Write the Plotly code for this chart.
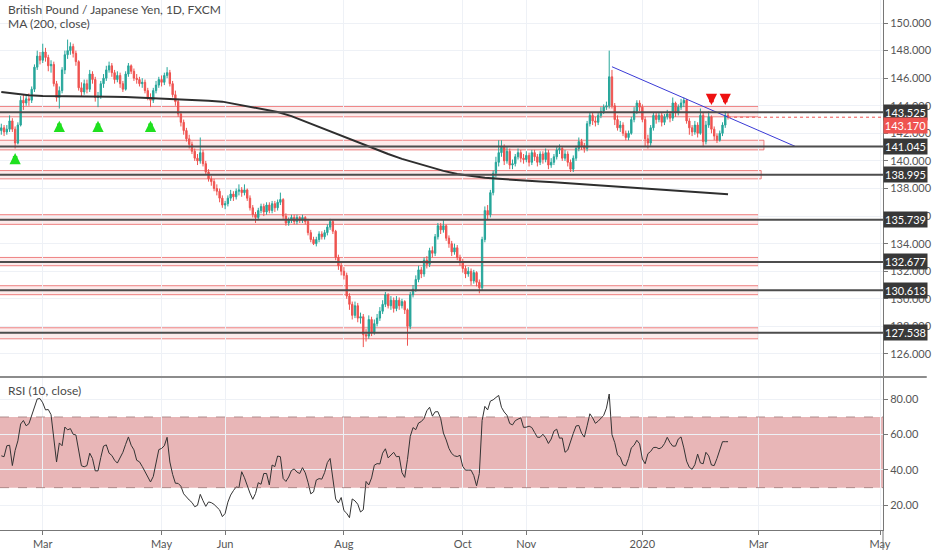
import pandas as pd
import plotly.graph_objects as go
from plotly.subplots import make_subplots

# %% data
# daily FXCM bars, weekends + Dec 25 / Jan 1 have no bar
bar_dates = pd.bdate_range("2019-02-08", "2020-02-14")
bar_dates = bar_dates[~bar_dates.isin(pd.to_datetime(["2019-12-25", "2020-01-01"]))]

opens = [142.2, 142.4, 142.1, 142.3, 142.9, 142.3,
         141.3, 142.6, 144.4, 144.2, 144.5, 144.4, 145.2, 146.8, 147.6, 147.3,
         147.9, 147.5, 146.9, 147.0, 145.6, 144.6, 145.1, 146.6, 147.7, 148.0,
         148.3, 147.8, 147.2, 145.3, 145.0, 145.6, 145.2, 146.3, 145.9, 144.6,
         144.7, 145.6, 146.0, 146.6, 146.9, 146.4, 145.9, 146.2, 145.6, 145.2,
         146.3, 146.9, 146.5, 146.0, 145.9, 145.6, 145.7, 145.1, 144.6, 144.4,
         145.1, 145.5, 145.9, 145.7, 146.2, 146.4, 145.6, 144.8, 144.3, 143.4,
         142.8, 142.2, 141.6, 141.2, 140.7, 140.2, 140.0, 140.6, 139.8, 139.2,
         138.7, 138.5, 138.0, 137.8, 137.3, 136.8, 136.9, 137.3, 137.6, 137.4,
         137.8, 137.9, 137.7, 137.9, 137.3, 136.6, 136.1, 135.9, 136.4, 136.7,
         136.3, 136.8, 136.4, 136.9, 136.6, 137.0, 137.2, 136.0, 135.5, 135.7,
         135.9, 135.6, 135.9, 135.7, 135.9, 135.6, 134.8, 134.3, 134.0, 134.3,
         134.7, 134.5, 134.8, 135.2, 135.6, 134.9, 133.0, 132.4, 132.0, 131.7,
         130.2, 129.6, 128.8, 129.5, 128.6, 128.7, 127.4, 127.3, 128.5, 127.6,
         128.2, 128.6, 129.1, 129.6, 130.3, 129.5, 129.9, 129.3, 129.9, 129.5,
         129.8, 129.2, 128.0, 130.3, 130.7, 131.4, 132.1, 131.8, 132.8, 132.5,
         133.5, 133.3, 134.5, 135.3, 135.0, 135.3, 134.4, 134.0, 133.4, 133.7,
         133.0, 132.7, 132.2, 131.8, 132.0, 131.3, 131.9, 131.2, 130.8, 134.3,
         136.4, 136.1, 137.7, 139.1, 139.9, 140.6, 141.0, 140.0, 140.7, 139.7,
         139.8, 140.3, 140.6, 140.2, 140.1, 140.4, 139.9, 140.6, 140.3, 139.9,
         140.5, 140.1, 140.6, 139.7, 139.9, 140.3, 140.8, 140.9, 140.2, 140.5,
         139.9, 139.4, 140.2, 140.9, 141.4, 141.1, 140.9, 142.7, 143.3, 142.9,
         142.8, 143.3, 143.6, 143.9, 144.0, 146.1, 144.0, 143.0, 142.4, 142.6,
         142.0, 141.7, 142.0, 143.0, 143.6, 144.2, 143.9, 143.0,
         141.6, 141.3, 142.4, 143.3, 143.0, 143.3, 142.8, 143.2, 143.4, 143.1,
         144.2, 143.5, 143.9, 144.2, 144.4, 142.9, 142.4, 142.1, 142.6, 142.0,
         143.3, 141.4, 142.6, 143.2, 142.3, 141.8, 141.5, 142.0, 142.6, 143.3]

highs = [142.7, 142.6, 142.6, 143.3, 143.1, 142.5,
         142.8, 144.7, 144.8, 144.8, 144.9, 145.4, 147.0, 148.0, 147.9, 148.5,
         148.2, 147.7, 147.3, 147.2, 145.8, 145.4, 146.8, 148.0, 148.8, 148.6,
         148.5, 148.0, 147.3, 145.7, 145.9, 145.9, 146.6, 146.5, 146.1, 145.0,
         145.8, 146.3, 146.9, 147.2, 147.1, 146.6, 146.5, 146.4, 145.8, 146.5,
         147.1, 147.0, 146.7, 146.3, 146.1, 146.0, 145.9, 145.3, 144.9, 145.3,
         145.8, 146.1, 146.2, 146.4, 146.8, 146.6, 145.8, 145.1, 144.5, 143.6,
         143.0, 142.4, 141.9, 141.4, 140.9, 140.5, 141.7, 140.8, 140.0, 139.4,
         138.9, 138.7, 138.3, 138.0, 137.5, 137.1, 137.5, 137.9, 137.8, 138.0,
         138.3, 138.1, 138.3, 138.0, 137.5, 136.8, 136.3, 136.6, 136.9, 136.9,
         137.0, 137.0, 137.1, 137.1, 137.2, 137.7, 137.3, 136.2, 135.9, 136.1,
         136.1, 136.1, 136.0, 136.1, 136.0, 135.8, 135.0, 134.5, 134.5, 134.9,
         134.9, 135.0, 135.4, 135.8, 135.7, 135.0, 133.2, 132.6, 132.3, 131.9,
         130.4, 129.8, 129.8, 129.7, 129.0, 128.9, 127.8, 128.8, 128.7, 128.5,
         128.9, 129.4, 129.9, 130.5, 130.4, 130.2, 130.1, 130.2, 130.1, 130.0,
         129.9, 129.3, 130.5, 131.0, 131.7, 132.4, 132.3, 133.0, 133.1, 133.7,
         133.8, 134.7, 135.5, 135.5, 135.7, 135.4, 134.6, 134.2, 134.0, 133.9,
         133.2, 132.9, 132.4, 132.3, 132.2, 132.1, 132.0, 131.4, 134.5, 136.7,
         136.8, 137.9, 139.3, 140.3, 141.5, 141.5, 141.2, 141.0, 140.9, 140.1,
         140.5, 140.9, 140.8, 140.5, 140.7, 140.6, 140.8, 140.8, 140.5, 140.7,
         140.7, 140.9, 140.8, 140.2, 140.5, 141.0, 141.2, 141.0, 140.8, 140.7,
         140.1, 140.4, 141.1, 141.7, 141.6, 141.3, 142.9, 143.5, 143.5, 143.2,
         143.5, 143.9, 144.1, 144.3, 148.0, 146.6, 144.2, 143.3, 142.9, 142.8,
         142.2, 142.2, 143.2, 143.9, 144.4, 144.4, 144.1, 143.2,
         141.9, 142.6, 143.5, 143.5, 143.5, 143.5, 143.4, 143.7, 143.6, 144.6,
         144.3, 144.1, 144.5, 144.6, 144.5, 143.1, 142.6, 142.9, 142.8, 143.8,
         143.5, 142.9, 143.6, 143.3, 142.5, 142.0, 142.2, 142.8, 143.6, 143.5]

lows = [141.9, 141.8, 141.9, 142.1, 142.1, 140.9,
        141.2, 142.5, 143.7, 144.0, 144.0, 144.2, 145.0, 146.6, 147.0, 147.1,
        147.2, 146.5, 146.4, 145.4, 144.3, 143.8, 144.9, 146.3, 147.4, 147.7,
        147.5, 146.9, 145.1, 144.7, 144.8, 144.9, 145.0, 145.6, 144.3, 143.9,
        144.5, 145.3, 145.8, 146.4, 146.1, 145.6, 145.7, 145.3, 145.0, 145.1,
        146.1, 146.3, 145.8, 145.6, 145.4, 145.3, 144.9, 144.4, 143.9, 144.2,
        144.9, 145.3, 145.4, 145.5, 146.0, 145.4, 144.6, 144.0, 143.2, 142.5,
        141.9, 141.4, 140.9, 140.5, 140.0, 139.7, 139.8, 139.6, 139.0, 138.5,
        138.2, 137.8, 137.5, 137.0, 136.6, 136.5, 136.7, 137.1, 137.1, 137.2,
        137.5, 137.4, 137.5, 137.1, 136.4, 135.9, 135.5, 135.7, 136.2, 136.0,
        136.1, 136.2, 136.2, 136.3, 136.4, 136.8, 135.8, 135.3, 135.3, 135.5,
        135.4, 135.4, 135.5, 135.5, 135.4, 134.6, 134.1, 133.9, 133.8, 134.1,
        134.3, 134.3, 134.6, 135.0, 134.7, 132.8, 132.1, 131.7, 131.4, 130.0,
        129.2, 128.5, 128.6, 128.3, 128.2, 126.5, 126.9, 127.1, 127.3, 127.4,
        128.0, 128.4, 128.9, 129.4, 129.3, 129.2, 129.0, 129.1, 129.2, 129.3,
        128.9, 126.6, 127.8, 130.1, 130.5, 131.2, 131.5, 131.6, 132.2, 132.3,
        133.0, 133.1, 134.3, 134.7, 134.8, 134.2, 133.7, 133.1, 133.2, 132.8,
        132.4, 131.9, 131.5, 131.6, 131.0, 131.1, 130.9, 130.4, 130.6, 134.1,
        135.7, 135.9, 137.5, 138.8, 139.6, 140.3, 139.7, 139.8, 139.4, 139.4,
        139.6, 140.1, 139.9, 139.8, 139.9, 139.6, 139.7, 140.0, 139.6, 139.7,
        139.8, 139.9, 139.4, 139.5, 139.7, 140.1, 140.5, 140.0, 140.0, 139.6,
        139.2, 139.2, 140.0, 140.7, 140.8, 140.6, 140.7, 142.5, 142.6, 142.5,
        142.6, 143.1, 143.4, 143.7, 143.8, 143.8, 142.6, 142.2, 142.1, 141.8,
        141.5, 141.5, 141.9, 142.8, 143.4, 143.6, 142.8, 141.0,
        140.9, 141.1, 142.2, 142.7, 142.8, 142.5, 142.6, 143.0, 142.8, 142.9,
        143.2, 143.3, 143.7, 143.9, 142.7, 141.9, 141.8, 141.9, 141.7, 141.9,
        141.0, 141.2, 142.4, 142.0, 141.5, 141.3, 141.4, 141.8, 142.4, 143.0]

closes = [142.4, 142.1, 142.3, 142.9, 142.3, 141.3,
          142.6, 144.4, 144.2, 144.5, 144.4, 145.2, 146.8, 147.6, 147.3, 147.9,
          147.5, 146.9, 147.0, 145.6, 144.6, 145.1, 146.6, 147.7, 148.0, 148.3,
          147.8, 147.2, 145.3, 145.0, 145.6, 145.2, 146.3, 145.9, 144.6, 144.7,
          145.6, 146.0, 146.6, 146.9, 146.4, 145.9, 146.2, 145.6, 145.2, 146.3,
          146.9, 146.5, 146.0, 145.9, 145.6, 145.7, 145.1, 144.6, 144.4, 145.1,
          145.5, 145.9, 145.7, 146.2, 146.4, 145.6, 144.8, 144.3, 143.4, 142.8,
          142.2, 141.6, 141.2, 140.7, 140.2, 140.0, 140.6, 139.8, 139.2, 138.7,
          138.5, 138.0, 137.8, 137.3, 136.8, 136.9, 137.3, 137.6, 137.4, 137.8,
          137.9, 137.7, 137.9, 137.3, 136.6, 136.1, 135.9, 136.4, 136.7, 136.3,
          136.8, 136.4, 136.9, 136.6, 137.0, 137.2, 136.0, 135.5, 135.7, 135.9,
          135.6, 135.9, 135.7, 135.9, 135.6, 134.8, 134.3, 134.0, 134.3, 134.7,
          134.5, 134.8, 135.2, 135.6, 134.9, 133.0, 132.4, 132.0, 131.7, 130.2,
          129.6, 128.8, 129.5, 128.6, 128.7, 127.4, 127.3, 128.5, 127.6, 128.2,
          128.6, 129.1, 129.6, 130.3, 129.5, 129.9, 129.3, 129.9, 129.5, 129.8,
          129.2, 128.0, 130.3, 130.7, 131.4, 132.1, 131.8, 132.8, 132.5, 133.5,
          133.3, 134.5, 135.3, 135.0, 135.3, 134.4, 134.0, 133.4, 133.7, 133.0,
          132.7, 132.2, 131.8, 132.0, 131.3, 131.9, 131.2, 130.8, 134.3, 136.4,
          136.1, 137.7, 139.1, 139.9, 140.6, 141.0, 140.0, 140.7, 139.7, 139.8,
          140.3, 140.6, 140.2, 140.1, 140.4, 139.9, 140.6, 140.3, 139.9, 140.5,
          140.1, 140.6, 139.7, 139.9, 140.3, 140.8, 140.9, 140.2, 140.5, 139.9,
          139.4, 140.2, 140.9, 141.4, 141.1, 140.9, 142.7, 143.3, 142.9, 142.8,
          143.3, 143.6, 143.9, 144.0, 146.1, 144.0, 143.0, 142.4, 142.6, 142.0,
          141.7, 142.0, 143.0, 143.6, 144.2, 143.9, 143.0, 141.6,
          141.3, 142.4, 143.3, 143.0, 143.3, 142.8, 143.2, 143.4, 143.1, 144.2,
          143.5, 143.9, 144.2, 144.4, 142.9, 142.4, 142.1, 142.6, 142.0, 143.3,
          141.4, 142.6, 143.2, 142.3, 141.8, 141.5, 142.0, 142.6, 143.3, 143.17]

rsi = [48.0, 47.5, 53.7, 54.0, 42.5, 51.0,
       56.5, 66.0, 68.0, 65.0, 66.2, 70.6, 75.4, 80.2, 80.4, 78.0,
       74.0, 74.2, 71.3, 57.0, 44.5, 55.3, 53.7, 64.3, 62.7, 63.4,
       60.2, 59.8, 50.0, 42.4, 41.8, 42.5, 49.5, 46.5, 39.5, 39.5,
       47.0, 53.5, 54.2, 49.5, 48.2, 45.5, 43.9, 46.8, 50.0, 54.5,
       58.7, 54.0, 51.4, 45.5, 44.6, 42.0, 38.8, 35.5, 33.2, 36.3,
       43.0, 51.5, 52.2, 53.7, 58.5, 44.5, 37.5, 32.5, 32.4, 30.8,
       26.5, 24.4, 23.0, 21.6, 19.2, 20.0, 26.2, 22.6, 19.4, 21.9,
       21.5, 20.5, 19.2, 17.4, 13.6, 15.4, 21.8, 25.8, 28.3, 30.4,
       30.0, 39.0, 35.6, 31.0, 26.9, 23.4, 26.7, 32.8, 31.9, 38.0,
       38.0, 31.5, 42.8, 41.9, 47.9, 47.5, 35.2, 33.5, 36.0, 39.7,
       40.6, 38.8, 38.0, 41.3, 38.4, 33.0, 26.5, 27.6, 34.3, 35.1,
       34.8, 38.5, 44.2, 46.5, 34.7, 23.6, 21.3, 24.4, 17.0, 15.5,
       13.0, 23.6, 22.5, 20.6, 16.2, 17.5, 33.5, 31.5, 35.5, 42.7,
       43.6, 43.4, 49.5, 52.0, 46.8, 48.6, 50.0, 47.5, 47.7, 38.5,
       35.8, 46.0, 59.0, 64.0, 62.8, 66.6, 67.4, 69.2, 73.5, 75.5,
       70.5, 72.9, 73.0, 69.2, 60.9, 57.0, 52.2, 49.3, 48.0, 47.6,
       48.3, 42.0, 39.9, 39.9, 39.9, 36.8, 31.0, 38.0, 68.0, 76.0,
       74.0, 79.0, 79.7, 81.0, 82.2, 75.5, 72.8, 71.0, 66.3, 65.5,
       67.9, 68.8, 69.5, 64.1, 64.2, 64.8, 64.0, 61.2, 58.5, 58.5,
       60.2, 58.2, 55.0, 57.5, 62.0, 63.1, 58.0, 58.1, 50.0, 51.3,
       56.5, 60.7, 64.9, 65.2, 60.8, 58.6, 65.0, 71.8, 69.5, 66.4,
       67.6, 69.2, 70.9, 75.0, 83.0, 60.0, 55.5, 48.5, 47.2, 43.0,
       42.3, 46.5, 52.5, 54.0, 56.8, 54.8, 46.2, 43.5,
       49.2, 50.5, 52.7, 52.8, 52.0, 52.7, 54.9, 58.5, 55.5, 53.5,
       53.5, 57.5, 58.7, 52.5, 45.0, 41.5, 40.4, 43.0, 49.0, 44.0,
       43.5, 50.0, 48.0, 42.8, 42.5, 46.5, 51.2, 56.0, 56.0, 56.0]

# MA(200) read at each Friday
ma_dates = pd.date_range("2019-02-08", "2020-02-14", freq="W-FRI")
ma_vals = [145.0, 144.88, 144.76,
           144.70, 144.70, 144.69, 144.68, 144.68,
           144.66, 144.64, 144.60, 144.57,
           144.52, 144.47, 144.42, 144.37, 144.30,
           144.12, 143.95, 143.78, 143.55,
           143.25, 142.85, 142.50, 142.10,
           141.70, 141.30, 140.90, 140.50, 140.15,
           139.85, 139.55, 139.28, 139.05,
           138.90, 138.78, 138.70, 138.62,
           138.56, 138.50, 138.45, 138.38, 138.30,
           138.22, 138.15, 138.07, 138.02,
           137.96, 137.90, 137.83, 137.76, 137.70,
           137.64, 137.58]

# support / resistance zones
levels = [143.525, 141.045, 138.995, 135.739, 132.677, 130.613, 127.538]
zone_lo = [143.2, 140.8, 138.7, 135.4, 132.4, 130.3, 127.1]
zone_hi = [143.95, 141.5, 139.3, 136.1, 133.0, 130.95, 127.9]
zone_end = ["2020-03-02", "2020-03-04", "2020-03-03", "2020-03-02",
            "2020-03-02", "2020-03-02", "2020-03-02"]

trend_dates = ["2019-12-16", "2020-03-19 10:00"]
trend_prices = [146.83, 141.045]

last_price = 143.17

up_arrow_dates = ["2019-02-15", "2019-03-11", "2019-03-29", "2019-04-25"]
up_arrow_prices = [140.57, 142.92, 142.92, 142.92]
down_arrow_dates = ["2020-02-06", "2020-02-13"]
down_arrow_prices = [144.05, 144.05]

month_ticks = ["2019-03-01", "2019-05-01", "2019-06-03", "2019-08-01", "2019-10-01",
               "2019-11-01", "2020-01-02", "2020-03-02", "2020-05-01"]
month_text = ["Mar", "May", "Jun", "Aug", "Oct", "Nov", "2020", "Mar", "May"]

x_range = ["2019-02-07 12:43", "2020-05-04 02:00"]

# %% figure
FONT = "Lato"
TXT = "#4a4a4a"
GRID = "#eef1f6"

fig = make_subplots(rows=2, cols=1, shared_xaxes=True, vertical_spacing=0,
                    row_heights=[377, 153])

fig.add_trace(go.Candlestick(
    x=bar_dates, open=opens, high=highs, low=lows, close=closes,
    increasing=dict(line=dict(color="#26a69a", width=1), fillcolor="#26a69a"),
    decreasing=dict(line=dict(color="#ef5350", width=1), fillcolor="#ef5350"),
    whiskerwidth=0, showlegend=False, hoverinfo="skip"), row=1, col=1)

fig.add_trace(go.Scatter(x=ma_dates, y=ma_vals, mode="lines",
                         line=dict(color="#2e2e2e", width=2),
                         showlegend=False, hoverinfo="skip"), row=1, col=1)

fig.add_trace(go.Scatter(x=trend_dates, y=trend_prices, mode="lines",
                         line=dict(color="#3a3ad6", width=1),
                         showlegend=False, hoverinfo="skip"), row=1, col=1)

fig.add_trace(go.Scatter(x=[bar_dates[-1], x_range[1]], y=[last_price, last_price],
                         mode="lines", line=dict(color="#ef5350", width=1, dash="dot"),
                         showlegend=False, hoverinfo="skip"), row=1, col=1)

fig.add_trace(go.Scatter(x=bar_dates, y=rsi, mode="lines",
                         line=dict(color="#333333", width=1),
                         showlegend=False, hoverinfo="skip"), row=2, col=1)

# zones + level lines + price labels
for lv, lo, hi, end in zip(levels, zone_lo, zone_hi, zone_end):
    fig.add_shape(type="rect", xref="x", yref="y", x0="2019-01-01", x1=end,
                  y0=lo, y1=hi, layer="below",
                  fillcolor="rgba(242,130,130,0.16)",
                  line=dict(color="rgba(232,90,90,0.75)", width=1))
    fig.add_shape(type="line", xref="paper", yref="y", x0=0, x1=1, y0=lv, y1=lv,
                  line=dict(color="#4d4d4d", width=2))
    fig.add_annotation(xref="paper", yref="y", x=1, y=lv, xanchor="left",
                       text=f"{lv:.3f}", showarrow=False, bgcolor="#383838",
                       font=dict(family=FONT, size=11, color="white"),
                       borderpad=1, width=41)

fig.add_annotation(xref="paper", yref="y", x=1, y=last_price, xanchor="left",
                   yshift=-8, text=f"{last_price:.3f}", showarrow=False,
                   bgcolor="#ef5350", font=dict(family=FONT, size=11, color="white"),
                   borderpad=1, width=41)

# RSI band
fig.add_shape(type="rect", xref="paper", yref="y2", x0=0, x1=1, y0=30, y1=70,
              layer="below", fillcolor="#e8b6b7", line=dict(width=0))
for b in [30, 70]:
    fig.add_shape(type="line", xref="paper", yref="y2", x0=0, x1=1, y0=b, y1=b,
                  line=dict(color="rgba(150,110,110,0.7)", width=1, dash="dash"))

# pane separator + axis line down to the bottom
fig.add_shape(type="line", xref="paper", yref="paper", x0=0, x1=932 / 888,
              y0=153 / 530, y1=153 / 530, line=dict(color="#8c8c8c", width=2))
fig.add_shape(type="line", xref="paper", yref="paper", x0=1, x1=1,
              y0=-20 / 530, y1=0, line=dict(color="#777777", width=1))

# arrows (tip at the given price, short stem)
for d, p in zip(up_arrow_dates, up_arrow_prices):
    fig.add_annotation(xref="x", yref="y", x=d, y=p, ax=0, ay=12, text="",
                       showarrow=True, arrowhead=2, arrowsize=0.5, arrowwidth=4.5,
                       arrowcolor="#1fe01f", standoff=0)
for d, p in zip(down_arrow_dates, down_arrow_prices):
    fig.add_annotation(xref="x", yref="y", x=d, y=p, ax=0, ay=-12, text="",
                       showarrow=True, arrowhead=2, arrowsize=0.5, arrowwidth=4.5,
                       arrowcolor="#ee1111", standoff=0)

# legends in the panes
fig.add_annotation(xref="paper", yref="paper", x=0, y=1 - 10 / 530, xshift=6,
                   xanchor="left", yanchor="middle", showarrow=False,
                   text="British Pound / Japanese Yen, 1D, FXCM",
                   font=dict(family=FONT, size=12, color=TXT))
fig.add_annotation(xref="paper", yref="paper", x=0, y=1 - 24 / 530, xshift=6,
                   xanchor="left", yanchor="middle", showarrow=False,
                   text="MA (200, close)", font=dict(family=FONT, size=12, color=TXT))
fig.add_annotation(xref="paper", yref="paper", x=0, y=(530 - 390) / 530, xshift=6,
                   xanchor="left", yanchor="middle", showarrow=False,
                   text="RSI (10, close)", font=dict(family=FONT, size=12, color=TXT))

fig.update_xaxes(type="date", range=x_range,
                 rangebreaks=[dict(bounds=["sat", "mon"]),
                              dict(values=["2019-12-25", "2020-01-01"])],
                 rangeslider_visible=False, tickmode="array",
                 tickvals=month_ticks, ticktext=month_text,
                 showgrid=True, gridcolor=GRID, gridwidth=1, zeroline=False)
fig.update_xaxes(showticklabels=False, ticks="", showline=False, row=1, col=1)
fig.update_xaxes(showline=True, linecolor="#777777", linewidth=1, ticks="outside",
                 ticklen=4, tickcolor="#777777",
                 tickfont=dict(family=FONT, size=11, color="#555555"), row=2, col=1)

fig.update_yaxes(side="right", range=[124.33, 151.67], tickmode="linear", tick0=126,
                 dtick=2, tickformat=".3f", showgrid=True, gridcolor=GRID,
                 zeroline=False, showline=True, linecolor="#777777", ticks="outside",
                 ticklen=4, tickcolor="#777777",
                 tickfont=dict(family=FONT, size=11, color="#555555"), row=1, col=1)
fig.update_yaxes(side="right", range=[6.02, 92.62], tickmode="array",
                 tickvals=[20, 40, 60, 80], tickformat=".2f", showgrid=True,
                 gridcolor=GRID, zeroline=False, showline=True, linecolor="#777777",
                 ticks="outside", ticklen=4, tickcolor="#777777",
                 tickfont=dict(family=FONT, size=11, color="#555555"), row=2, col=1)

fig.update_layout(width=932, height=550, margin=dict(l=0, r=44, t=0, b=20),
                  plot_bgcolor="white", paper_bgcolor="white", showlegend=False,
                  font=dict(family=FONT))

# page body has an 8px default margin; drop it so the chart sits at 0,0
fig.write_html("out.html", config={"displayModeBar": False},
               post_script="document.body.style.margin='0';")
